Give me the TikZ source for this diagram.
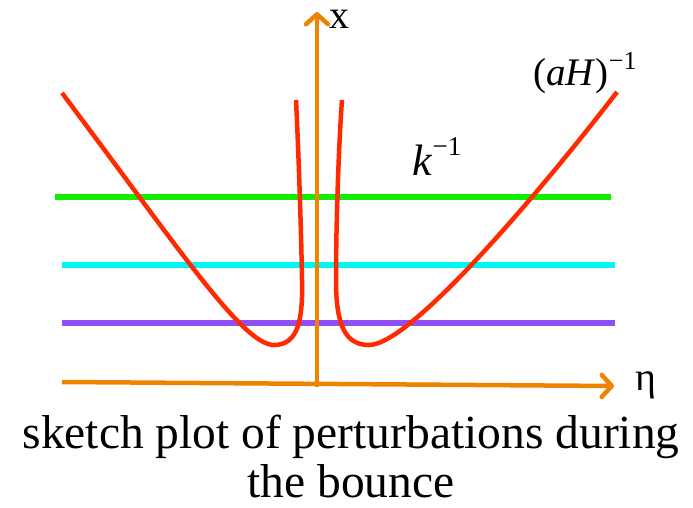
\documentclass[tikz,border=0pt]{standalone}
\usepackage{fontspec}
\setmainfont{Liberation Serif}
\usetikzlibrary{arrows.meta}
\definecolor{axisorange}{HTML}{EE8300}
\definecolor{curvered}{HTML}{FF2A00}
\definecolor{lgreen}{HTML}{11EE00}
\definecolor{lcyan}{HTML}{00F5F5}
\definecolor{lpurple}{HTML}{9050F5}
\begin{document}
\begin{tikzpicture}[x=1pt,y=-1pt,
  axisline/.style={draw=axisorange,line width=4.5pt,-{Straight Barb[length=10pt,width=22pt,line width=4.5pt,round]}},
  level/.style={line width=5.5pt},
  curve/.style={draw=curvered,line width=4.5pt},
  lbl/.style={inner sep=0pt,anchor=base}]
\useasboundingbox (0,0) rectangle (693,508);
% coordinates
\coordinate (ybot) at (317,387);
\coordinate (ytop) at (317,12);
\coordinate (xl) at (62,382);
\coordinate (xr) at (614,386);
% level lines
\coordinate (g1) at (55,197); \coordinate (g2) at (611,197);
\coordinate (c1) at (62,265); \coordinate (c2) at (615,265);
\coordinate (p1) at (62,323); \coordinate (p2) at (615,323);
\draw[level,lgreen] (g1) -- (g2);
\draw[level,lcyan] (c1) -- (c2);
\draw[level,lpurple] (p1) -- (p2);
% red curves
\draw[curve] (62,93) .. controls (180,250) and (243,345) .. (274,345)
  .. controls (298,345) and (303,320) .. (302,280)
  .. controls (301,220) and (298,140) .. (296,100);
\draw[curve] (342,100) .. controls (339,140) and (336,220) .. (336,280)
  .. controls (336,325) and (345,345) .. (369,345)
  .. controls (412,345) and (547,183) .. (617,92);
% axes
\draw[axisline] (xl) -- (xr);
\draw[axisline] (ybot) -- (ytop);
% labels
\node[lbl] (xlab) at (339,29) {\fontsize{40}{40}\selectfont x};
\node[lbl] (etalab) at (646,390) {\fontsize{40}{40}\selectfont η};
\node[lbl] (klab) at (437,175) {\fontsize{44}{44}\selectfont\textit{k}\raisebox{0.45em}{\fontsize{27}{27}\selectfont −1}};
\node[lbl] (aHlab) at (585,86) {\fontsize{39}{39}\selectfont(\textit{aH})\raisebox{0.42em}{\fontsize{26}{26}\selectfont −1}};
\node[lbl] (cap1) at (351,448) {\fontsize{47.5}{47.5}\selectfont sketch plot of perturbations during};
\node[lbl] (cap2) at (351,497) {\fontsize{47.5}{47.5}\selectfont the bounce};
\end{tikzpicture}
\end{document}
